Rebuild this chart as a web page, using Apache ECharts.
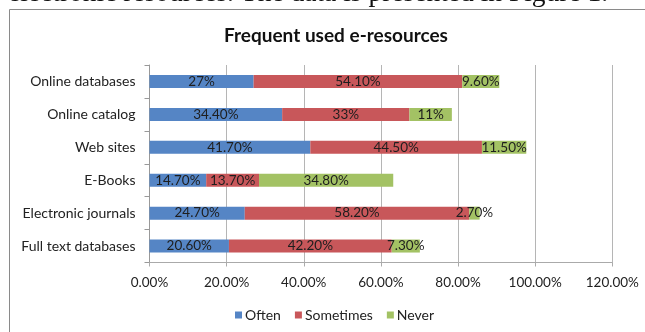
<!DOCTYPE html>
<html>
<head>
<meta charset="utf-8">
<script src="https://cdn.jsdelivr.net/npm/echarts@6/dist/echarts.min.js"></script>
<style>
  html, body { margin: 0; padding: 0; background: #fff; }
  #chart { width: 645px; height: 332px; }
</style>
</head>
<body>
<div id="chart"></div>
<script>
// Survey of e-resource usage frequency (percent of respondents)
const categories = ['Online databases', 'Online catalog', 'Web sites', 'E-Books', 'Electronic journals', 'Full text databases'];
const often = [27, 34.4, 41.7, 14.7, 24.7, 20.6];
const sometimes = [54.1, 33, 44.5, 13.7, 58.2, 42.2];
const never = [9.6, 11, 11.5, 34.8, 2.7, 7.3];
const seriesNames = ['Often', 'Sometimes', 'Never'];
const valueTicks = { min: 0, max: 120, interval: 20 };

const FONT = 'Lato';
const colors = ['#5585C5', '#C8575A', '#A3C264'];

// Whole numbers print bare ("27%"), others with two decimals ("34.40%")
function pct(v) {
  return (Number.isInteger(v) ? String(v) : v.toFixed(2)) + '%';
}

const chart = echarts.init(document.getElementById('chart'), null, { renderer: 'canvas' });

const seriesData = [often, sometimes, never];

chart.setOption({
  animation: false,
  textStyle: { fontFamily: FONT },
  graphic: [
    {
      type: 'text',
      left: 8,
      top: -20,
      style: {
        text: 'electronic resources. The data is presented in Figure 1.',
        font: '27.5px "Liberation Serif"',
        fill: '#111'
      },
      z: 10
    },
    {
      type: 'rect',
      shape: { x: 9.5, y: 9.5, width: 700, height: 400 },
      style: { fill: 'none', stroke: '#8a8a8a', lineWidth: 1 },
      z: 0
    }
  ],
  title: {
    text: 'Frequent used e-resources',
    left: 331,
    top: 21,
    textAlign: 'center',
    textStyle: { fontFamily: FONT, fontSize: 19, fontWeight: 'bold', color: '#111' }
  },
  legend: {
    data: seriesNames,
    left: 230,
    top: 303,
    icon: 'rect',
    itemWidth: 7,
    itemHeight: 7,
    itemGap: 14,
    textStyle: { fontFamily: FONT, fontSize: 14, color: '#222', padding: [0, 0, 0, -2] }
  },
  grid: { left: 149.5, right: 32.7, top: 65, bottom: 69.5, containLabel: false },
  xAxis: {
    type: 'value',
    min: valueTicks.min,
    max: valueTicks.max,
    interval: valueTicks.interval,
    axisLine: { show: true, lineStyle: { color: '#aaaaaa' } },
    axisTick: { show: true, length: 4, lineStyle: { color: '#aaaaaa' } },
    splitLine: { show: true, lineStyle: { color: '#b5b5b5' } },
    axisLabel: {
      margin: 13,
      fontFamily: FONT,
      fontSize: 13.5,
      color: '#222',
      formatter: v => v.toFixed(2) + '%'
    }
  },
  yAxis: {
    type: 'category',
    data: categories,
    inverse: true,
    axisLine: { show: true, lineStyle: { color: '#999999' } },
    axisTick: { show: true, length: 5, lineStyle: { color: '#999999' } },
    axisLabel: { margin: 14, fontFamily: FONT, fontSize: 14, color: '#222' }
  },
  series: seriesNames.map((name, i) => ({
    name,
    type: 'bar',
    stack: 'total',
    barWidth: 13,
    data: seriesData[i],
    itemStyle: { color: colors[i] },
    label: {
      show: true,
      position: 'inside',
      fontFamily: FONT,
      fontSize: 13.5,
      color: '#1e1e1e',
      formatter: p => pct(p.value)
    }
  }))
});
</script>
</body>
</html>
